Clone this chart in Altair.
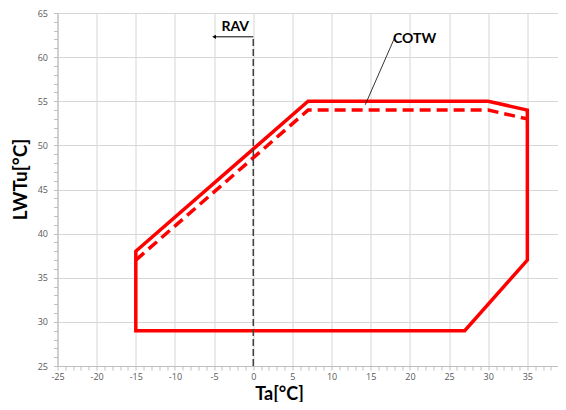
import altair as alt
import pandas as pd

# Operating envelope (solid) and COTW limit (dashed)
env_x = [-15, -15, 7, 30, 35, 35, 27, -15]
env_y = [29, 38, 55, 55, 54, 37, 29, 29]
cotw_x = [-15, 7, 30, 35]
cotw_y = [37, 54, 54, 53]

x_ticks = list(range(-25, 41))
y_ticks = list(range(25, 66))

# annotations
rav_line_x = [0]
rav_line_y = [25]
rav_line_y2 = [62.3]
arrow_x = [0]
arrow_x2 = [-5]
arrow_y = [62.3]
rav_label = ["RAV"]
rav_label_x = [-2.3]
rav_label_y = [63.4]
cotw_label = ["COTW"]
cotw_label_x = [20.6]
cotw_label_y = [62.1]
leader_x = [18.2]
leader_y = [62.5]
leader_x2 = [14.3]
leader_y2 = [54.6]

env_df = pd.DataFrame({"x": env_x, "y": env_y, "o": list(range(len(env_x)))})
cotw_df = pd.DataFrame({"x": cotw_x, "y": cotw_y, "o": list(range(len(cotw_x)))})
rav_df = pd.DataFrame({"x": rav_line_x, "y": rav_line_y, "y2": rav_line_y2})
arrow_df = pd.DataFrame({"x": arrow_x, "x2": arrow_x2, "y": arrow_y})
head_df = pd.DataFrame({"x": arrow_x2, "y": arrow_y})
ravt_df = pd.DataFrame({"t": rav_label, "x": rav_label_x, "y": rav_label_y})
cotwt_df = pd.DataFrame({"t": cotw_label, "x": cotw_label_x, "y": cotw_label_y})
lead_df = pd.DataFrame({"x": leader_x, "y": leader_y, "x2": leader_x2, "y2": leader_y2})

xscale = alt.Scale(domain=[-25, 40], nice=False, zero=False)
yscale = alt.Scale(domain=[25, 65], nice=False, zero=False)

grid_cond = {"condition": {"test": "datum.value % 5 === 0", "value": 1}, "value": 0}

xaxis = alt.Axis(
    values=x_ticks,
    labelExpr="datum.value % 5 === 0 ? '' + datum.value : ''",
    gridOpacity=grid_cond,
    gridColor="#d6d6d6",
    gridWidth=1,
    domainColor="#bfbfbf",
    tickColor="#bfbfbf",
    tickSize=4,
    labelPadding=2,
    labelFlush=False,
    labelOverlap=False,
    labelFont="Open Sans",
    labelFontSize=9,
    labelColor="#595959",
    title="Ta[°C]",
    titleFont="Lato",
    titleFontSize=18,
    titleFontWeight="bold",
    titleColor="#000000",
    titleX=221.5,
    titleY=33,
    titleBaseline="alphabetic",
    titleAlign="center",
)
yaxis = alt.Axis(
    values=y_ticks,
    labelExpr="datum.value % 5 === 0 ? '' + datum.value : ''",
    gridOpacity=grid_cond,
    gridColor="#d6d6d6",
    gridWidth=1,
    domainColor="#bfbfbf",
    tickColor="#bfbfbf",
    tickSize=4,
    labelPadding=6,
    labelFlush=False,
    labelOverlap=False,
    labelFont="Open Sans",
    labelFontSize=9,
    labelColor="#595959",
    title="LWTu[°C]",
    titleFont="Lato",
    titleFontSize=19,
    titleFontWeight="bold",
    titleColor="#000000",
    titleAngle=-90,
    titleX=-37.5,
    titleY=166,
    titleBaseline="middle",
    titleAlign="center",
)


def X(f):
    return alt.X(f, type="quantitative", scale=xscale, axis=xaxis)


def Y(f):
    return alt.Y(f, type="quantitative", scale=yscale, axis=yaxis)


env = alt.Chart(env_df).mark_line(color="#ff0000", strokeWidth=3.5, strokeJoin="miter", strokeCap="square").encode(
    x=X("x"), y=Y("y"), order="o:Q"
)
cotw = alt.Chart(cotw_df).mark_line(color="#ff0000", strokeWidth=3.5, strokeDash=[11, 6]).encode(
    x=X("x"), y=Y("y"), order="o:Q"
)
rav = alt.Chart(rav_df).mark_rule(color="#404040", strokeWidth=1.5, strokeDash=[7, 3]).encode(
    x=X("x"), y=Y("y"), y2="y2"
)
arrow = alt.Chart(arrow_df).mark_rule(color="#000000", strokeWidth=1).encode(
    x=X("x"), x2="x2", y=Y("y")
)
head = alt.Chart(head_df).mark_point(shape="triangle-left", filled=True, size=18, color="#000000", opacity=1).encode(
    x=X("x"), y=Y("y")
)
ravt = alt.Chart(ravt_df).mark_text(font="Lato", fontWeight="bold", fontSize=14, color="#000000").encode(
    x=X("x"), y=Y("y"), text="t"
)
cotwt = alt.Chart(cotwt_df).mark_text(font="Lato", fontWeight="bold", fontSize=14, color="#000000").encode(
    x=X("x"), y=Y("y"), text="t"
)
lead = alt.Chart(lead_df).mark_rule(color="#000000", strokeWidth=0.8).encode(
    x=X("x"), y=Y("y"), x2="x2", y2="y2"
)

chart = alt.layer(env, cotw, rav, arrow, head, lead, ravt, cotwt).properties(
    width=509,
    height=353,
    autosize=alt.AutoSizeParams(type="none"),
    padding={"left": 49.5, "top": 5, "right": -8.5, "bottom": 36},
).configure_view(stroke=None).configure(background="white")

chart.save("out.html", embed_options={"renderer": "svg", "actions": False})
